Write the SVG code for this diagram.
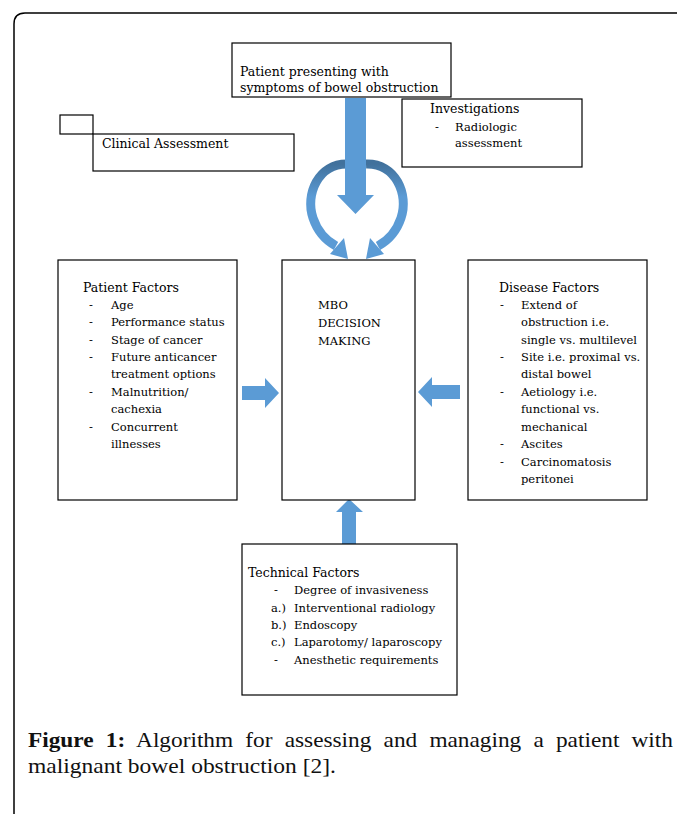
<svg xmlns="http://www.w3.org/2000/svg" width="677" height="814" viewBox="0 0 677 814">
<style>
.box{fill:#fff;stroke:#000;stroke-width:1.2}
.t{font-family:"DejaVu Serif","Liberation Serif",serif;font-size:12.5px;fill:#000}
.l{font-family:"DejaVu Serif","Liberation Serif",serif;font-size:11.5px;fill:#000}
.h{font-family:"DejaVu Serif","Liberation Serif",serif;font-size:12.5px;fill:#000}
.cap{font-family:"Liberation Serif",serif;font-size:22px;fill:#111}
.arr{fill:#5b9bd5}
</style>
<defs>
<linearGradient id="cg" x1="0" y1="0" x2="0" y2="1">
<stop offset="0" stop-color="#41719c"/>
<stop offset="0.4" stop-color="#5b9bd5"/>
<stop offset="1" stop-color="#5b9bd5"/>
</linearGradient>
</defs>
<rect width="677" height="814" fill="#fff"/>
<path d="M14,830 V24 Q14,13 25,13 H690" fill="none" stroke="#000" stroke-width="1.5"/>

<g id="connectors">
<g id="curve-left">
<path d="M348,164 C318,163 305,195 313,218 C317,230 325,240 336,246" fill="none" stroke="url(#cg)" stroke-width="9"/>
<polygon points="344,238 330,254 348,259" class="arr"/>
</g>
<g id="curve-right">
<path d="M366,164 C396,163 409,195 401,218 C397,230 389,240 378,246" fill="none" stroke="url(#cg)" stroke-width="9"/>
<polygon points="370,238 384,254 366,259" class="arr"/>
</g>
<polygon id="arrow-down" class="arr" points="345,98 366,98 366,195 374,195 355.5,214 337,195 345,195"/>
<polygon id="arrow-right" class="arr" points="242,386 265,386 265,378 279,393 265,408 265,400 242,400"/>
<polygon id="arrow-left" class="arr" points="460,385 432,385 432,377 418,392 432,407 432,399 460,399"/>
<polygon id="arrow-up" class="arr" points="342,544 342,512 336,512 349,499 363,512 356,512 356,544"/>
</g>

<g id="node-patient-presenting">
<rect class="box" x="232" y="43" width="219" height="54"/>
<text class="t" x="240" y="76">Patient presenting with</text>
<text class="t" x="240" y="92">symptoms of bowel obstruction</text>
</g>

<g id="node-clinical-assessment">
<rect class="box" x="60" y="115" width="33" height="19"/>
<rect class="box" x="93" y="134" width="201" height="37"/>
<text class="t" x="102" y="148">Clinical Assessment</text>
</g>

<g id="node-investigations">
<rect class="box" x="402" y="99" width="180" height="68"/>
<text class="h" x="430" y="113">Investigations</text>
<text class="l" x="435" y="131">-</text>
<text class="l" x="455" y="131">Radiologic</text>
<text class="l" x="455" y="147">assessment</text>
</g>

<g id="node-patient-factors">
<rect class="box" x="58" y="260" width="179" height="240"/>
<text class="h" x="83" y="292">Patient Factors</text>
<g class="l">
<text x="89" y="309">-</text><text x="111" y="309">Age</text>
<text x="89" y="326">-</text><text x="111" y="326">Performance status</text>
<text x="89" y="343.5">-</text><text x="111" y="343.5">Stage of cancer</text>
<text x="89" y="361">-</text><text x="111" y="361">Future anticancer</text>
<text x="111" y="378">treatment options</text>
<text x="89" y="396">-</text><text x="111" y="396">Malnutrition/</text>
<text x="111" y="413">cachexia</text>
<text x="89" y="431">-</text><text x="111" y="431">Concurrent</text>
<text x="111" y="448">illnesses</text>
</g>
</g>

<g id="node-mbo">
<rect class="box" x="282" y="260" width="133" height="240"/>
<text class="l" x="318" y="309">MBO</text>
<text class="l" x="318" y="327">DECISION</text>
<text class="l" x="318" y="345">MAKING</text>
</g>

<g id="node-disease-factors">
<rect class="box" x="468" y="260" width="179" height="240"/>
<text class="h" x="499" y="292">Disease Factors</text>
<g class="l">
<text x="500" y="308.5">-</text><text x="521" y="308.5">Extend of</text>
<text x="521" y="326">obstruction i.e.</text>
<text x="521" y="343.5">single vs. multilevel</text>
<text x="500" y="361">-</text><text x="521" y="361">Site i.e. proximal vs.</text>
<text x="521" y="378">distal bowel</text>
<text x="500" y="396">-</text><text x="521" y="396">Aetiology i.e.</text>
<text x="521" y="413">functional vs.</text>
<text x="521" y="431">mechanical</text>
<text x="500" y="448">-</text><text x="521" y="448">Ascites</text>
<text x="500" y="465.5">-</text><text x="521" y="465.5">Carcinomatosis</text>
<text x="521" y="483">peritonei</text>
</g>
</g>

<g id="node-technical-factors">
<rect class="box" x="242" y="544" width="215" height="151"/>
<text class="h" x="248" y="577">Technical Factors</text>
<g class="l">
<text x="274" y="594">-</text><text x="294" y="594">Degree of invasiveness</text>
<text x="271" y="611.5">a.)</text><text x="294" y="611.5">Interventional radiology</text>
<text x="271" y="629">b.)</text><text x="294" y="629">Endoscopy</text>
<text x="271" y="646">c.)</text><text x="294" y="646">Laparotomy/ laparoscopy</text>
<text x="274" y="663.5">-</text><text x="294" y="663.5">Anesthetic requirements</text>
</g>
</g>

<g id="caption" class="cap">
<text x="28" y="747" word-spacing="6" textLength="645" lengthAdjust="spacingAndGlyphs"><tspan font-weight="bold">Figure 1:</tspan> Algorithm for assessing and managing a patient with</text>
<text x="28" y="773" textLength="308" lengthAdjust="spacingAndGlyphs">malignant bowel obstruction [2].</text>
</g>
</svg>
